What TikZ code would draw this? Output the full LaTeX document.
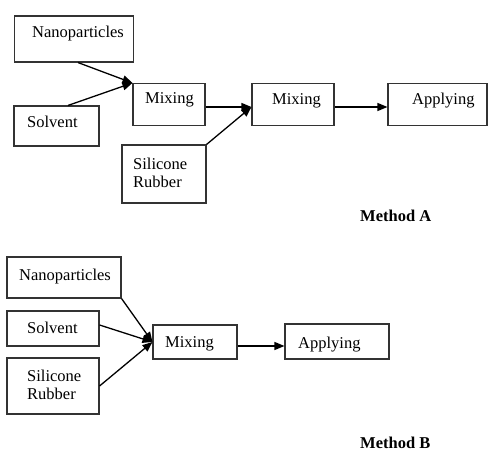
\documentclass[tikz,border=0pt]{standalone}
\usepackage{fontspec}
\setmainfont{Liberation Serif}
\usetikzlibrary{arrows.meta}
\begin{document}
\begin{tikzpicture}[x=1pt,y=-1pt,
  box/.style={draw=black!80,line width=1.1pt,inner sep=0pt},
  lbl/.style={anchor=base west,inner sep=0pt,font=\fontsize{16.5}{18}\selectfont},
  ttl/.style={anchor=base west,inner sep=0pt,font=\fontsize{16.5}{18}\selectfont\bfseries},
  conn/.style={line width=1.3pt,-{Triangle[length=10pt,width=8pt]}}]
\useasboundingbox (0,0) rectangle (488,452);
% ---------- Method A ----------
\node[box,minimum width=119pt,minimum height=46pt] (nanoA) at (74,39) {};
\node[box,minimum width=85pt,minimum height=40pt] (solA) at (56.5,126) {};
\node[box,minimum width=72pt,minimum height=42pt] (mixA1) at (169,104.5) {};
\node[box,minimum width=84pt,minimum height=58pt] (silA) at (164,174) {};
\node[box,minimum width=82pt,minimum height=42pt] (mixA2) at (293,104.5) {};
\node[box,minimum width=99pt,minimum height=42pt] (appA) at (437.5,104.5) {};
\node[lbl] (tnanoA) at (32,38) {Nanoparticles};
\node[lbl] (tsolA) at (27,128) {Solvent};
\node[lbl] (tmixA1) at (145,104) {Mixing};
\node[lbl,align=left] (tsilA) at (133,187) {Silicone\\Rubber};
\node[lbl] (tmixA2) at (272,105) {Mixing};
\node[lbl] (tappA) at (412,105) {Applying};
\node[ttl] (methA) at (360,222) {Method A};
\draw[conn] ([xshift=4pt]nanoA.south) -- (mixA1.north west);
\draw[conn] ([xshift=11.5pt]solA.north) -- (mixA1.north west);
\draw[conn] ([yshift=-2.5pt]mixA1.east) -- ([yshift=-2.5pt]mixA2.west);
\draw[conn] (silA.north east) -- ([yshift=-2.5pt]mixA2.west);
\draw[conn] ([yshift=-2.5pt]mixA2.east) -- ([yshift=-2.5pt]appA.west);
% ---------- Method B ----------
\node[box,minimum width=114pt,minimum height=41pt] (nanoB) at (64,277.5) {};
\node[box,minimum width=92pt,minimum height=35pt] (solB) at (53,328.5) {};
\node[box,minimum width=92pt,minimum height=56pt] (silB) at (53,386) {};
\node[box,minimum width=84pt,minimum height=34pt] (mixB) at (195,342) {};
\node[box,minimum width=104pt,minimum height=35pt] (appB) at (337,341.5) {};
\node[lbl] (tnanoB) at (19,280) {Nanoparticles};
\node[lbl] (tsolB) at (27,333) {Solvent};
\node[lbl,align=left] (tsilB) at (27,399) {Silicone\\Rubber};
\node[lbl] (tmixB) at (165,347) {Mixing};
\node[lbl] (tappB) at (298,348) {Applying};
\node[ttl] (methB) at (360,448) {Method B};
\draw[conn] (nanoB.south east) -- (mixB.west);
\draw[conn] ([yshift=3.5pt]solB.east) -- (mixB.west);
\draw[conn] (silB.east) -- (mixB.west);
\draw[conn] ([yshift=-4pt]mixB.east) -- ([yshift=-4.5pt]appB.west);
\end{tikzpicture}
\end{document}
